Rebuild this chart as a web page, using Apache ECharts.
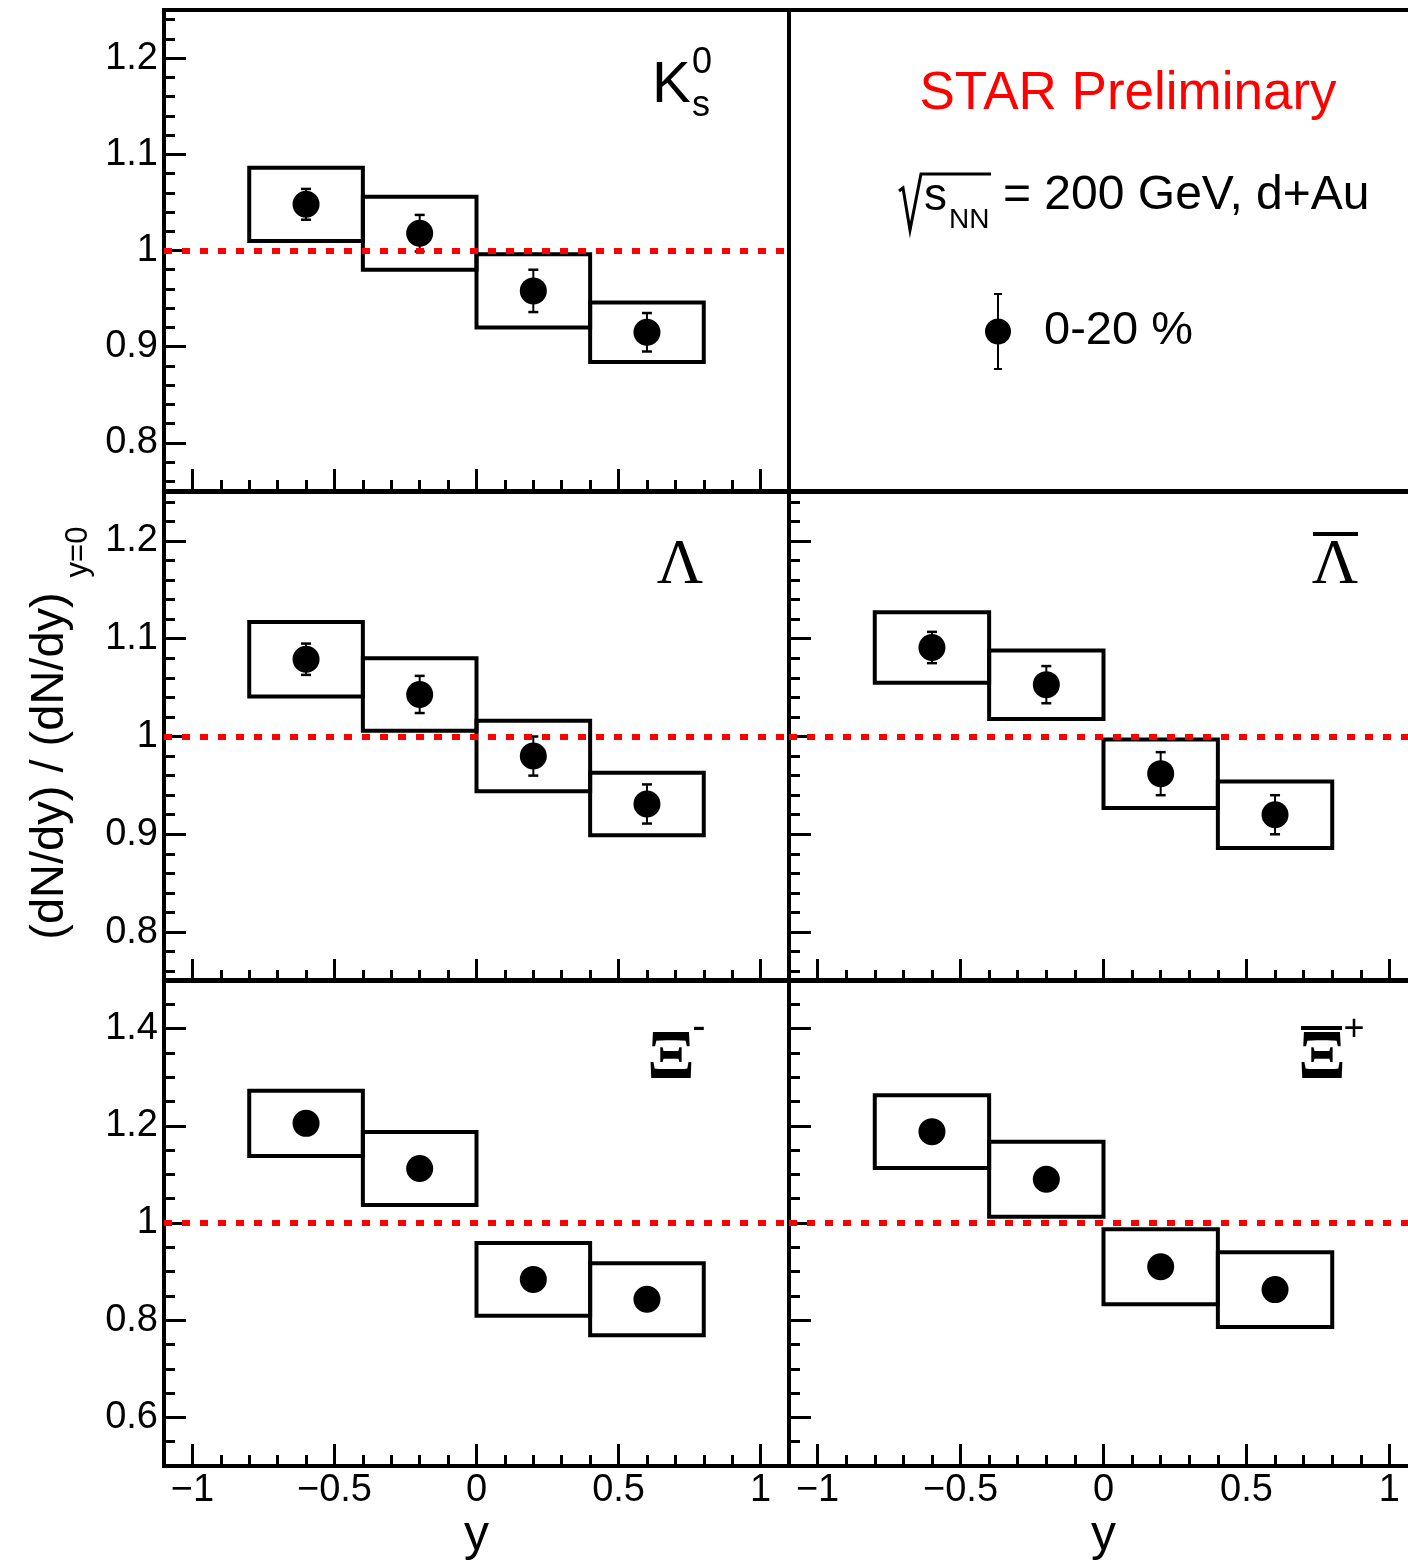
<!DOCTYPE html>
<html>
<head>
<meta charset="utf-8">
<script src="https://cdn.jsdelivr.net/npm/echarts@6/dist/echarts.min.js"></script>
<style>
html,body{margin:0;padding:0;background:#fff;}
#chart{width:1408px;height:1565px;}
</style>
</head>
<body>
<div id="chart"></div>
<script>
// ---------------- data ----------------
const yBins = [-0.6, -0.2, 0.2, 0.6];          // rapidity bin centres
const binHalfWidth = 0.2;                        // half width of each rapidity bin

const k0sRatio = [1.048, 1.018, 0.958, 0.915];
const k0sStat  = [0.016, 0.019, 0.022, 0.020];
const k0sSys   = [0.038, 0.038, 0.038, 0.031];

const lamRatio = [1.079, 1.043, 0.980, 0.931];
const lamStat  = [0.016, 0.019, 0.020, 0.020];
const lamSys   = [0.038, 0.037, 0.036, 0.032];

const alamRatio = [1.091, 1.053, 0.962, 0.920];
const alamStat  = [0.016, 0.019, 0.022, 0.020];
const alamSys   = [0.036, 0.035, 0.035, 0.034];

const xiRatio = [1.205, 1.112, 0.884, 0.843];
const xiStat  = [0.020, 0.020, 0.020, 0.020];
const xiSys   = [0.067, 0.075, 0.075, 0.074];

const axiRatio = [1.188, 1.090, 0.910, 0.863];
const axiStat  = [0.020, 0.020, 0.020, 0.020];
const axiSys   = [0.075, 0.077, 0.077, 0.077];

const legendLabel = '0-20 %';

// ---------------- tick labels ----------------
const xMajorTicks = [-1, -0.5, 0, 0.5, 1];
const xMinorTicks = [-0.9, -0.8, -0.7, -0.6, -0.4, -0.3, -0.2, -0.1, 0.1, 0.2, 0.3, 0.4, 0.6, 0.7, 0.8, 0.9];
const yMajorNarrow = [0.8, 0.9, 1, 1.1, 1.2];
const yMinorNarrow = [0.76, 0.78, 0.82, 0.84, 0.86, 0.88, 0.92, 0.94, 0.96, 0.98, 1.02, 1.04, 1.06, 1.08, 1.12, 1.14, 1.16, 1.18, 1.22, 1.24];
const yMajorWide = [0.6, 0.8, 1, 1.2, 1.4];
const yMinorWide = [0.55, 0.65, 0.7, 0.75, 0.85, 0.9, 0.95, 1.05, 1.1, 1.15, 1.25, 1.3, 1.35, 1.45];

// ---------------- layout / style ----------------
const SANS = '"Liberation Sans", Helvetica, Arial, sans-serif';
const SERIF = '"Liberation Serif", "Times New Roman", Times, serif';

const grids = [
  {left: 164, top: 10,  width: 625, height: 481}, // 0: K0s
  {left: 789, top: 10,  width: 629, height: 481}, // 1: legend panel
  {left: 164, top: 492, width: 625, height: 489}, // 2: Lambda
  {left: 789, top: 492, width: 629, height: 489}, // 3: anti-Lambda
  {left: 164, top: 980, width: 625, height: 486}, // 4: Xi-
  {left: 789, top: 980, width: 629, height: 486}  // 5: anti-Xi+
].map(g => Object.assign({show: true, borderColor: '#000', borderWidth: 4, backgroundColor: 'transparent', containLabel: false, outerBoundsMode: 'none'}, g));

const panels = [
  {grid: 0, ratio: k0sRatio, stat: k0sStat, sys: k0sSys, wide: false, xLabels: false, yLabels: true},
  {grid: 2, ratio: lamRatio, stat: lamStat, sys: lamSys, wide: false, xLabels: false, yLabels: true},
  {grid: 3, ratio: alamRatio, stat: alamStat, sys: alamSys, wide: false, xLabels: false, yLabels: false},
  {grid: 4, ratio: xiRatio, stat: xiStat, sys: xiSys, wide: true, xLabels: true, yLabels: true},
  {grid: 5, ratio: axiRatio, stat: axiStat, sys: axiSys, wide: true, xLabels: true, yLabels: false}
];

const xAxes = [], yAxes = [], series = [];

panels.forEach((p, i) => {
  const xCommon = {type: 'value', gridIndex: p.grid, min: -1.1, max: 1.1, position: 'bottom',
    axisLine: {show: false, onZero: false}, splitLine: {show: false}};
  xAxes.push(Object.assign({}, xCommon, {
    axisTick: {show: true, inside: true, length: 22, lineStyle: {color: '#000', width: 3}, customValues: xMajorTicks},
    axisLabel: {show: p.xLabels, customValues: xMajorTicks, margin: 6, color: '#000', fontSize: 38, fontFamily: SANS,
      formatter: v => String(v).replace('-', '\u2212')},
    name: p.xLabels ? 'y' : '', nameLocation: 'middle', nameGap: 44,
    nameTextStyle: {fontSize: 50, color: '#000', fontFamily: SANS}
  }));
  xAxes.push(Object.assign({}, xCommon, {
    axisTick: {show: true, inside: true, length: 11, lineStyle: {color: '#000', width: 3}, customValues: xMinorTicks},
    axisLabel: {show: false}
  }));

  const yMin = p.wide ? 0.5 : 0.75, yMax = p.wide ? 1.5 : 1.25;
  const yMaj = p.wide ? yMajorWide : yMajorNarrow;
  const yMin2 = p.wide ? yMinorWide : yMinorNarrow;
  const yCommon = {type: 'value', gridIndex: p.grid, min: yMin, max: yMax, position: 'left',
    axisLine: {show: false, onZero: false}, splitLine: {show: false}};
  yAxes.push(Object.assign({}, yCommon, {
    axisTick: {show: true, inside: true, length: 22, lineStyle: {color: '#000', width: 3}, customValues: yMaj},
    axisLabel: {show: p.yLabels, customValues: yMaj, margin: 6, color: '#000', fontSize: 38, fontFamily: SANS,
      formatter: v => String(v)}
  }));
  yAxes.push(Object.assign({}, yCommon, {
    axisTick: {show: true, inside: true, length: 11, lineStyle: {color: '#000', width: 3}, customValues: yMin2},
    axisLabel: {show: false}
  }));

  const ax = {xAxisIndex: 2 * i, yAxisIndex: 2 * i};
  series.push(Object.assign({
    type: 'custom', name: 'sys', silent: true, z: 2,
    encode: {x: 0, y: 1},
    data: yBins.map((x, j) => [x, p.ratio[j], p.sys[j]]),
    renderItem: function (params, api) {
      const x = api.value(0), v = api.value(1), s = api.value(2);
      const a = api.coord([x - binHalfWidth, v + s]);
      const b = api.coord([x + binHalfWidth, v - s]);
      return {type: 'rect', shape: {x: a[0], y: a[1], width: b[0] - a[0], height: b[1] - a[1]},
        style: {fill: 'none', stroke: '#000', lineWidth: 4}};
    }
  }, ax));
  series.push(Object.assign({
    type: 'custom', name: 'stat', silent: true, z: 3,
    encode: {x: 0, y: 1},
    data: yBins.map((x, j) => [x, p.ratio[j], p.stat[j]]),
    renderItem: function (params, api) {
      const x = api.value(0), v = api.value(1), e = api.value(2);
      const t = api.coord([x, v + e]);
      const b = api.coord([x, v - e]);
      const cw = 5;
      return {type: 'group', children: [
        {type: 'line', shape: {x1: t[0], y1: t[1], x2: b[0], y2: b[1]}, style: {stroke: '#000', lineWidth: 2}},
        {type: 'line', shape: {x1: t[0] - cw, y1: t[1], x2: t[0] + cw, y2: t[1]}, style: {stroke: '#000', lineWidth: 2.5}},
        {type: 'line', shape: {x1: b[0] - cw, y1: b[1], x2: b[0] + cw, y2: b[1]}, style: {stroke: '#000', lineWidth: 2.5}}
      ]};
    }
  }, ax));
  series.push(Object.assign({
    type: 'scatter', name: legendLabel, z: 4,
    symbol: 'circle', symbolSize: 27,
    itemStyle: {color: '#000', opacity: 1},
    emphasis: {disabled: true},
    data: yBins.map((x, j) => [x, p.ratio[j]]),
    markLine: {
      silent: true, symbol: ['none', 'none'], label: {show: false},
      lineStyle: {color: '#ff0000', width: 6, type: [8, 10], cap: 'butt', opacity: 1},
      emphasis: {disabled: true},
      data: [{yAxis: 1}]
    }
  }, ax));
});

function txt(text, x, y, size, family, align, extra) {
  extra = extra || {};
  return Object.assign({
    type: 'text', x: x, y: y, silent: true, z: 10,
    style: {
      text: text, fill: extra.fill || '#000',
      font: (extra.weight || 'normal') + ' ' + size + 'px ' + family,
      textAlign: align, textVerticalAlign: 'middle', align: align, verticalAlign: 'middle'
    }
  }, extra.el || {});
}

const graphics = [
  // K0s label
  txt('K', 652, 86, 58, SANS, 'left'),
  txt('0', 692, 63, 36, SANS, 'left'),
  txt('s', 692, 106, 36, SANS, 'left'),
  // Lambda
  txt('\u039B', 680, 566, 64, SERIF, 'center'),
  // anti-Lambda
  txt('\u039B', 1335, 566, 64, SERIF, 'center'),
  {type: 'rect', silent: true, z: 10, shape: {x: 1313, y: 532, width: 45, height: 4}, style: {fill: '#000'}},
  // Xi-
  txt('\u039E', 671, 1060, 70, SERIF, 'center', {weight: 'bold'}),
  txt('-', 699, 1028, 40, SANS, 'center'),
  // anti-Xi+
  txt('\u039E', 1322, 1060, 70, SERIF, 'center', {weight: 'bold'}),
  {type: 'rect', silent: true, z: 10, shape: {x: 1301, y: 1026, width: 41, height: 4}, style: {fill: '#000'}},
  txt('+', 1354, 1030, 36, SANS, 'center'),
  // header
  txt('STAR Preliminary', 1128, 94, 53, SANS, 'center', {fill: '#ff0000'}),
  {type: 'polyline', silent: true, z: 10, shape: {points: [[899, 191], [903, 188], [910, 230], [921, 174], [991, 174]]},
    style: {stroke: '#000', lineWidth: 3, fill: null}},
  txt('s', 924, 197, 46, SANS, 'left'),
  txt('NN', 949, 220, 28, SANS, 'left'),
  txt('= 200 GeV, d+Au', 1003, 196, 48, SANS, 'left'),
  // y-axis title (rotated)
  txt('(dN/dy) / (dN/dy)', 50, 766, 47, SANS, 'center', {el: {rotation: Math.PI / 2}}),
  txt('y=0', 78, 552, 31, SANS, 'center', {el: {rotation: Math.PI / 2}})
];

const chart = echarts.init(document.getElementById('chart'), null, {renderer: 'canvas'});
chart.setOption({
  animation: false,
  backgroundColor: '#fff',
  textStyle: {fontFamily: SANS},
  grid: grids,
  xAxis: xAxes,
  yAxis: yAxes,
  legend: {
    show: true, data: [legendLabel], left: 985, top: 293, padding: 0,
    itemWidth: 26, itemHeight: 77, itemGap: 0, selectedMode: false,
    icon: 'path://M12 0H14V26H12Z M9 0H17V2H9Z M12 51H14V77H12Z M9 75H17V77H9Z M0 38.5A13 13 0 1 1 26 38.5A13 13 0 1 1 0 38.5Z',
    itemStyle: {color: '#000', borderWidth: 0, opacity: 1},
    textStyle: {fontSize: 47, color: '#000', fontFamily: SANS, padding: [4, 0, 0, 28]}
  },
  graphic: {elements: graphics},
  series: series
});
</script>
</body>
</html>
